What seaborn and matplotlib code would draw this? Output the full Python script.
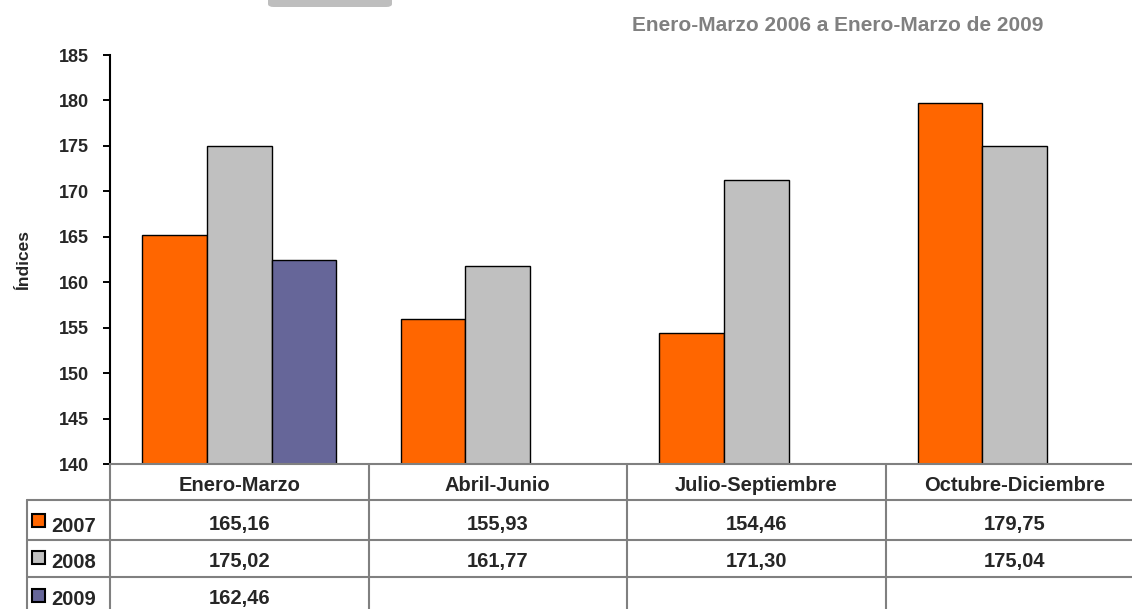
"""
    Indices by quarter, 2007-2009, bar chart with data table underneath.
"""

import numpy as np
import pandas as pd
import matplotlib
matplotlib.use("Agg")
import matplotlib.pyplot as plt
import matplotlib.transforms as mtransforms
from matplotlib.lines import Line2D
from matplotlib.patches import Rectangle, FancyBboxPatch
import seaborn as sns

# Data
periods = ['Enero-Marzo', 'Abril-Junio', 'Julio-Septiembre', 'Octubre-Diciembre']
years = ['2007', '2008', '2009']
v2007 = [165.16, 155.93, 154.46, 179.75]
v2008 = [175.02, 161.77, 171.30, 175.04]
v2009 = [162.46, np.nan, np.nan, np.nan]
yticks = [140, 145, 150, 155, 160, 165, 170, 175, 180, 185]

colours = {'2007': '#FF6600', '2008': '#C0C0C0', '2009': '#666699'}
series = {'2007': v2007, '2008': v2008, '2009': v2009}

rows = []
for y in years:
    for p, v in zip(periods, series[y]):
        if not np.isnan(v):
            rows.append({'periodo': p, 'year': y, 'indice': v})
df = pd.DataFrame(rows)

sns.set_style("white")
plt.rcParams['font.family'] = ['Liberation Sans', 'DejaVu Sans']

W, H = 1132, 609
fig = plt.figure(figsize=(W / 100, H / 100), dpi=100)
# axes runs past the right edge like the original (table is cut off)
ax = fig.add_axes([110 / W, 1 - 464 / H, 1034 / W, 409 / H])

sns.barplot(data=df, x='periodo', y='indice', hue='year', order=periods,
            hue_order=years, palette=colours, saturation=1, width=0.75, gap=0,
            edgecolor='black', linewidth=1, errorbar=None, ax=ax, legend=False)

ax.set_ylim(140, 185)
ax.set_xlim(-0.5, 3.5)
ax.set_yticks(yticks)
ax.set_yticklabels([str(t) for t in yticks], fontsize=13, fontweight='bold')
ax.tick_params(axis='y', left=True, direction='out', length=5, width=1.4,
               color='black', pad=10)
ax.set_xticks([])
ax.set_xlabel('')
ax.set_ylabel('Índices', fontsize=12.5, fontweight='bold', labelpad=20)
for s in ['top', 'right', 'bottom']:
    ax.spines[s].set_visible(False)
ax.spines['left'].set_color('black')
ax.spines['left'].set_linewidth(1.5)

# ---- data table under the axes
grid_col = '#808080'
bt = mtransforms.blended_transform_factory(ax.transData, fig.transFigure)
fy = lambda px: 1 - px / H
fx = lambda px: px / W

row_lines = [464, 500, 540, 577]
header_base = 491
value_base = [530, 567, 604]
label_base = [532, 568, 605]
key_top = [513, 550, 588]
tfs = 14.5

# horizontal lines
fig.add_artist(Line2D([fx(110), 1], [fy(464), fy(464)], color=grid_col, lw=1.5))
for yl in row_lines[1:]:
    fig.add_artist(Line2D([fx(27), 1], [fy(yl), fy(yl)], color=grid_col, lw=1.5))
# vertical lines
fig.add_artist(Line2D([fx(27), fx(27)], [fy(500), 0], color=grid_col, lw=1.5))
for i in range(len(periods) + 1):
    fig.add_artist(Line2D([i - 0.5, i - 0.5], [fy(464), 0], color=grid_col, lw=1.5,
                          transform=bt))

# header texts
for i, p in enumerate(periods):
    fig.text(i, fy(header_base), p, transform=bt, ha='center', va='baseline',
             fontsize=tfs, fontweight='bold')

# row labels with colour keys, then values
for r, y in enumerate(years):
    fig.add_artist(Rectangle((fx(32), fy(key_top[r] + 14)), 13 / W, 13 / H,
                             facecolor=colours[y], edgecolor='black', lw=1.5,
                             transform=fig.transFigure))
    fig.text(fx(51), fy(label_base[r]), y, ha='left', va='baseline',
             fontsize=tfs, fontweight='bold')
    for i, v in enumerate(series[y]):
        if not np.isnan(v):
            fig.text(i, fy(value_base[r]), f"{v:.2f}".replace('.', ','), transform=bt,
                     ha='center', va='baseline', fontsize=tfs, fontweight='bold')

# subtitle
fig.text(fx(838), fy(31), 'Enero-Marzo 2006 a Enero-Marzo de 2009',
         ha='center', va='baseline', fontsize=15, fontweight='bold', color='#808080')

# cropped grey tab at the top
fig.add_artist(FancyBboxPatch((fx(268), fy(7)), 124 / W, 20 / H,
                              boxstyle="round,pad=0,rounding_size=0.005",
                              facecolor='#BEBEBE', edgecolor='none',
                              transform=fig.transFigure))

fig.savefig("out.png", dpi=100)
